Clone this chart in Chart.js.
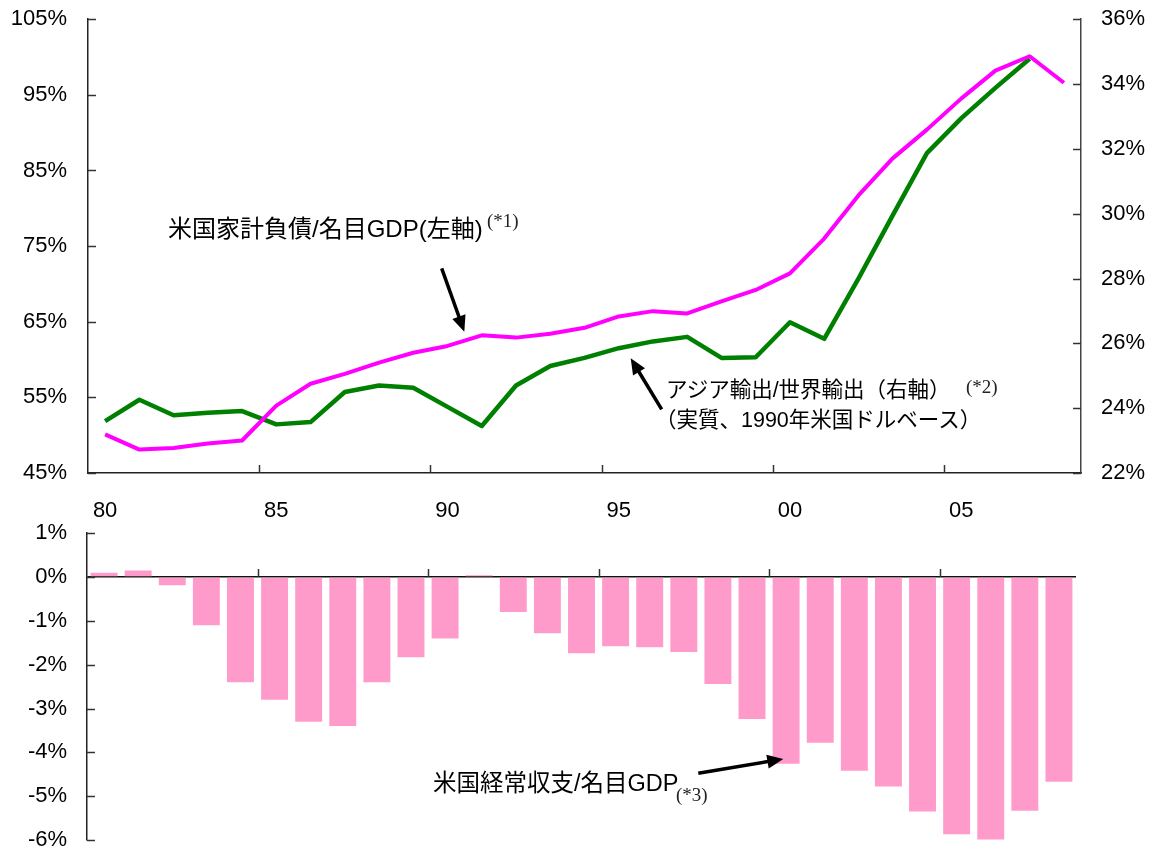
<!DOCTYPE html>
<html lang="ja">
<head>
<meta charset="utf-8">
<script src="https://cdn.jsdelivr.net/npm/chart.js@4.4.1/dist/chart.umd.min.js"></script>
<style>
  html, body { margin: 0; padding: 0; background: #fff; overflow: hidden; }
  #wrap { position: relative; width: 1155px; height: 852px; overflow: hidden; }
  #lineChart { position: absolute; left: 0; top: -15px; }
  #barChart { position: absolute; left: 0; top: 500px; }
  #arrows { position: absolute; left: 0; top: 0; }
  .note {
    position: absolute; white-space: nowrap; line-height: 1; color: #000;
    font-family: "Liberation Sans", "Noto Sans CJK JP", sans-serif;
  }
  .ref {
    position: absolute; white-space: nowrap; line-height: 1; color: #222;
    font-family: "Liberation Serif", serif; font-size: 19px;
  }
</style>
</head>
<body>
<div id="wrap">
  <canvas id="lineChart" width="1155" height="545"></canvas>
  <canvas id="barChart" width="1155" height="375"></canvas>
  <svg id="arrows" width="1155" height="852"></svg>

  <div class="note" style="left:168px; top:217px; font-size:24px;">米国家計負債/名目GDP(左軸)</div>
  <div class="ref" style="left:487px; top:211px;">(*1)</div>

  <div class="note" style="left:666px; top:380px; font-size:21.5px;">アジア輸出/世界輸出（右軸）</div>
  <div class="ref" style="left:966px; top:377px;">(*2)</div>
  <div class="note" style="left:655px; top:410px; font-size:21.5px;">（実質、1990年米国ドルベース）</div>

  <div class="note" style="left:433px; top:772px; font-size:23.5px;">米国経常収支/名目GDP</div>
  <div class="ref" style="left:676px; top:785px;">(*3)</div>
</div>

<script>
// 1980-2008, two-digit year labels
const years = ['80', '81', '82', '83', '84', '85', '86', '87', '88', '89',
               '90', '91', '92', '93', '94', '95', '96', '97', '98', '99',
               '00', '01', '02', '03', '04', '05', '06', '07', '08'];

// US household debt / nominal GDP (%), left axis
const householdDebt = [50.1, 48.1, 48.3, 48.9, 49.3, 53.9, 56.8, 58.1, 59.6, 60.9,
                       61.8, 63.2, 62.9, 63.4, 64.2, 65.7, 66.4, 66.1, 67.7, 69.2,
                       71.4, 76.0, 81.7, 86.6, 90.4, 94.5, 98.2, 100.1, 96.6];

// Asian exports / world exports (%), right axis; no 2008 figure
const asiaExportShare = [23.6, 24.26, 23.78, 23.86, 23.91, 23.5, 23.57, 24.5, 24.7, 24.63,
                         24.04, 23.45, 24.7, 25.3, 25.55, 25.85, 26.06, 26.2, 25.55, 25.57,
                         26.65, 26.14, 28.0, 29.95, 31.87, 32.94, 33.88, 34.78, null];

// US current account / nominal GDP (%)
const currentAccount = [0.1, 0.15, -0.19, -1.1, -2.4, -2.8, -3.3, -3.4, -2.4, -1.83,
                        -1.4, 0.04, -0.8, -1.28, -1.74, -1.58, -1.6, -1.71, -2.44, -3.24,
                        -4.26, -3.78, -4.42, -4.78, -5.35, -5.87, -5.99, -5.33, -4.67];

const leftRange = { min: 45, max: 105, step: 10 };
const rightRange = { min: 22, max: 36, step: 2 };
const barRange = { min: -6, max: 1, step: 1 };

const sansFont = '"Liberation Sans", Arial, sans-serif';
Chart.defaults.font.family = sansFont;
Chart.defaults.font.size = 22;
Chart.defaults.color = '#000';

const pct = v => v + '%';

// short tick marks drawn inward from each axis, year marks every 5 years
const tickMarks = {
  id: 'tickMarks',
  afterDraw(chart, args, opts) {
    const ctx = chart.ctx;
    ctx.save();
    ctx.strokeStyle = '#333';
    ctx.lineWidth = 1.5;
    (opts.yAxes || []).forEach(id => {
      const s = chart.scales[id];
      const left = s.position === 'left';
      const x0 = left ? s.right : s.left;
      s.ticks.forEach((t, i) => {
        const y = Math.round(s.getPixelForTick(i)) + 0.5;
        ctx.beginPath();
        ctx.moveTo(x0, y);
        ctx.lineTo(x0 + (left ? 8 : -8), y);
        ctx.stroke();
      });
    });
    const xs = chart.scales.x;
    const baseY = opts.zeroBase ? chart.scales.y.getPixelForValue(0) : xs.top;
    for (let i = 5; i < chart.data.labels.length; i += 5) {
      const x = Math.round((xs.getPixelForValue(i - 1) + xs.getPixelForValue(i)) / 2) + 0.5;
      ctx.beginPath();
      ctx.moveTo(x, baseY);
      ctx.lineTo(x, baseY - 8);
      ctx.stroke();
    }
    ctx.restore();
  }
};

new Chart(document.getElementById('lineChart'), {
  type: 'line',
  data: {
    labels: years,
    datasets: [{
      label: '米国家計負債/名目GDP',
      data: householdDebt,
      yAxisID: 'yL',
      borderColor: '#ff00ff',
      borderWidth: 4,
      pointRadius: 0,
      tension: 0,
      borderJoinStyle: 'round'
    }, {
      label: 'アジア輸出/世界輸出',
      data: asiaExportShare,
      yAxisID: 'yR',
      borderColor: '#008000',
      borderWidth: 4.5,
      pointRadius: 0,
      tension: 0,
      borderJoinStyle: 'round'
    }]
  },
  options: {
    responsive: false,
    animation: false,
    layout: { padding: { top: 2 } },
    plugins: {
      legend: { display: false },
      tooltip: { enabled: false },
      tickMarks: { yAxes: ['yL', 'yR'] }
    },
    scales: {
      x: {
        type: 'category',
        offset: true,
        grid: { drawOnChartArea: false, drawTicks: false, offset: true },
        border: { display: true, color: '#222', width: 1.5 },
        ticks: {
          autoSkip: false, maxRotation: 0, padding: 25,
          callback: (v, i) => (i % 5 === 0 ? years[i] : '')
        },
        afterFit: s => { s.height = 57; }
      },
      yL: {
        position: 'left',
        min: leftRange.min, max: leftRange.max,
        grid: { drawOnChartArea: false, drawTicks: false },
        border: { display: true, color: '#222', width: 1.5 },
        ticks: { stepSize: leftRange.step, padding: 21, callback: pct },
        afterFit: s => { s.width = 88; }
      },
      yR: {
        position: 'right',
        min: rightRange.min, max: rightRange.max,
        grid: { drawOnChartArea: false, drawTicks: false },
        border: { display: true, color: '#444', width: 1.5 },
        ticks: { stepSize: rightRange.step, padding: 20, callback: pct },
        afterFit: s => { s.width = 74; }
      }
    }
  },
  plugins: [tickMarks]
});

new Chart(document.getElementById('barChart'), {
  type: 'bar',
  data: {
    labels: years,
    datasets: [{
      label: '米国経常収支/名目GDP',
      data: currentAccount,
      backgroundColor: '#ff9bcb',
      barPercentage: 0.79,
      categoryPercentage: 1.0
    }]
  },
  options: {
    responsive: false,
    animation: false,
    layout: { padding: { top: 2, bottom: 35, right: 79 } },
    plugins: {
      legend: { display: false },
      tooltip: { enabled: false },
      tickMarks: { yAxes: ['y'], zeroBase: true }
    },
    scales: {
      x: { type: 'category', display: false, offset: true },
      y: {
        position: 'left',
        min: barRange.min, max: barRange.max,
        grid: {
          drawTicks: false,
          lineWidth: 1.5,
          color: c => (c.tick && c.tick.value === 0 ? '#111' : 'rgba(0,0,0,0)')
        },
        border: { display: true, color: '#222', width: 1.5 },
        ticks: { stepSize: barRange.step, padding: 20, callback: pct },
        afterFit: s => { s.width = 87; }
      }
    }
  },
  plugins: [tickMarks]
});

// callout arrows: tail -> tip
const arrows = [
  [441.7, 268.3, 464.3, 331.7],
  [661.7, 409.3, 630.7, 358.3],
  [698.3, 773.3, 783.3, 759.0]
];
const svg = document.getElementById('arrows');
const NS = 'http://www.w3.org/2000/svg';
arrows.forEach(([x1, y1, x2, y2]) => {
  const len = Math.hypot(x2 - x1, y2 - y1);
  const ux = (x2 - x1) / len, uy = (y2 - y1) / len;
  const headLen = 16, headHalf = 7;
  const bx = x2 - ux * headLen, by = y2 - uy * headLen;
  const line = document.createElementNS(NS, 'line');
  line.setAttribute('x1', x1); line.setAttribute('y1', y1);
  line.setAttribute('x2', bx + ux * 2); line.setAttribute('y2', by + uy * 2);
  line.setAttribute('stroke', '#000'); line.setAttribute('stroke-width', 3.5);
  svg.appendChild(line);
  const head = document.createElementNS(NS, 'polygon');
  head.setAttribute('points', [
    x2 + ',' + y2,
    (bx - uy * headHalf) + ',' + (by + ux * headHalf),
    (bx + uy * headHalf) + ',' + (by - ux * headHalf)
  ].join(' '));
  head.setAttribute('fill', '#000');
  svg.appendChild(head);
});
</script>
</body>
</html>
